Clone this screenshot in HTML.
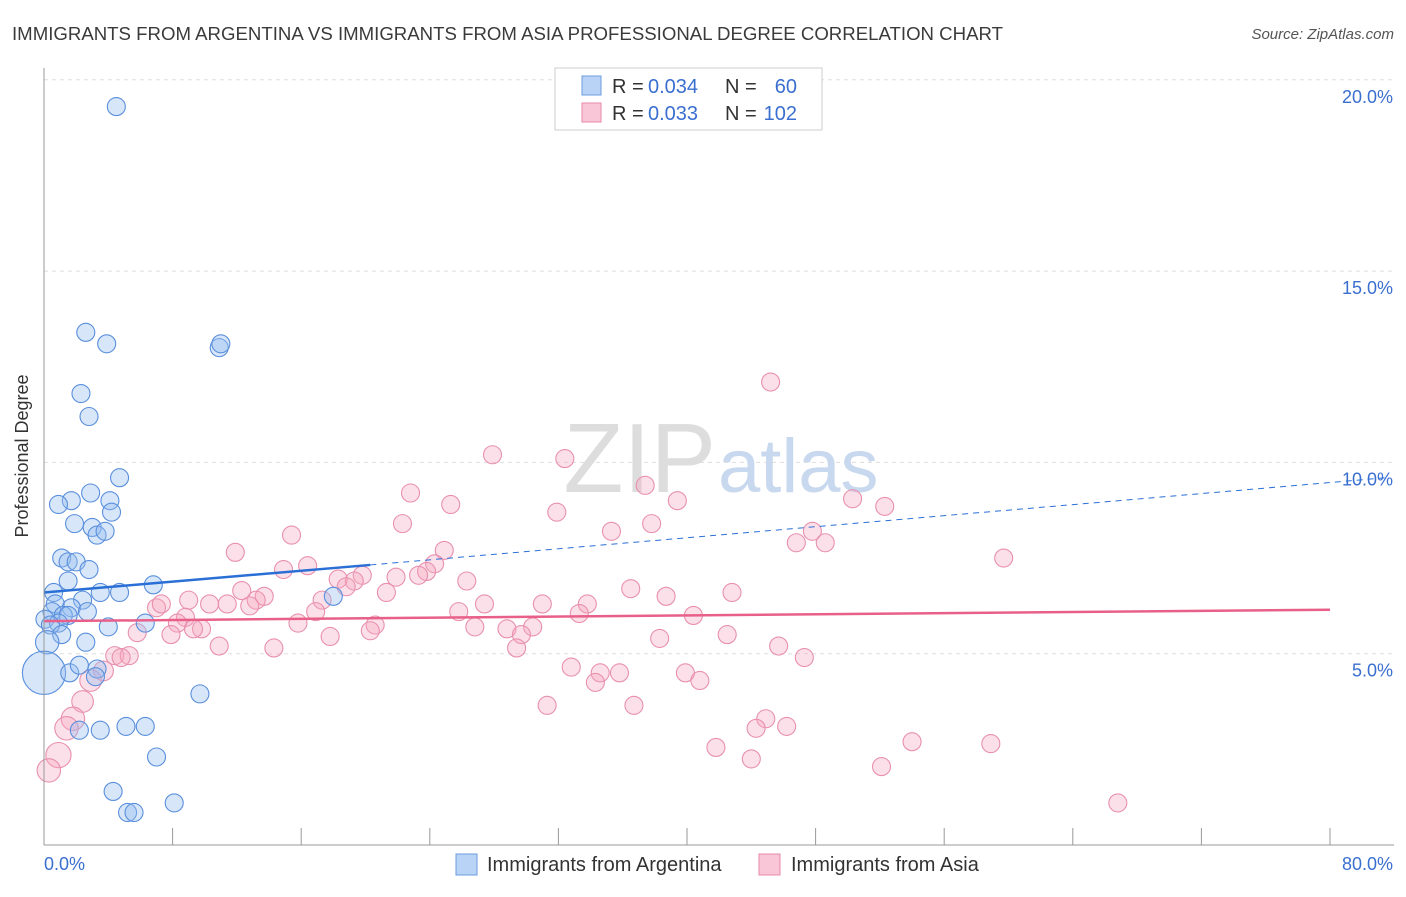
<!DOCTYPE html>
<html><head><meta charset="utf-8"><style>
body{margin:0;background:#fff;font-family:"Liberation Sans",sans-serif}
svg text{font-family:"Liberation Sans",sans-serif}
</style></head><body>
<svg width="1406" height="892" viewBox="0 0 1406 892">
<text x="12" y="40" font-size="18" fill="#3a3a3a" textLength="991" lengthAdjust="spacingAndGlyphs">IMMIGRANTS FROM ARGENTINA VS IMMIGRANTS FROM ASIA PROFESSIONAL DEGREE CORRELATION CHART</text>
<text x="1394" y="39" font-size="15" fill="#555" text-anchor="end" font-style="italic">Source: ZipAtlas.com</text>
<g id="grid"></g>
<text x="716" y="492" font-size="98" fill="#ddd" text-anchor="end" font-family="Liberation Serif">ZIP</text>
<text x="718" y="492" font-size="76" fill="#c8d8ee">atlas</text>
<g id="pts"></g>
<g id="trend"></g>
<line x1="44" y1="68" x2="44" y2="845" stroke="#999"/>
<line x1="44" y1="845" x2="1394" y2="845" stroke="#999"/>
<text x="28" y="456" font-size="18" fill="#333" text-anchor="middle" transform="rotate(-90 28 456)">Professional Degree</text>
<text x="44" y="870" font-size="18" fill="#3a6fd0">0.0%</text>
<text x="1393" y="870" font-size="18" fill="#3a6fd0" text-anchor="end">80.0%</text>
<g>
<rect x="555" y="68" width="267" height="62" fill="#fff" stroke="#ccc"/>
<rect x="582" y="76" width="19" height="19" fill="#b8d3f5" stroke="#6b9de0"/>
<rect x="582" y="103" width="19" height="19" fill="#f8c6d6" stroke="#e88aa8"/>
<text x="612" y="93" font-size="20" fill="#333">R = </text>
<text x="648" y="93" font-size="20" fill="#3a6fd0">0.034</text>
<text x="725" y="93" font-size="20" fill="#333">N = </text>
<text x="797" y="93" font-size="20" fill="#3a6fd0" text-anchor="end">60</text>
<text x="612" y="120" font-size="20" fill="#333">R = </text>
<text x="648" y="120" font-size="20" fill="#3a6fd0">0.033</text>
<text x="725" y="120" font-size="20" fill="#333">N = </text>
<text x="797" y="120" font-size="20" fill="#3a6fd0" text-anchor="end">102</text>
</g>
<g>
<rect x="456" y="854" width="21" height="21" fill="#b8d3f5" stroke="#6b9de0"/>
<text x="487" y="871" font-size="20" fill="#333">Immigrants from Argentina</text>
<rect x="759" y="854" width="21" height="21" fill="#f8c6d6" stroke="#e88aa8"/>
<text x="791" y="871" font-size="20" fill="#333">Immigrants from Asia</text>
</g>
</svg>
<script>
const yTicks=[5,10,15,20];
const xTicks=[0,8,16,24,32,40,48,56,64,72,80];
const blueX=[4.5,2.6,3.9,10.9,11.0,2.3,2.8,4.7,1.7,0.9,2.9,4.1,4.2,1.9,3.0,3.3,3.8,1.1,1.5,2.0,2.8,1.5,0.6,6.8,4.7,3.5,18.0,0.7,2.4,1.7,0.5,1.2,2.7,1.5,0.06,0.9,6.3,0.4,1.1,4.0,2.6,0.2,0,1.6,2.2,3.3,3.2,9.7,2.2,3.5,5.1,6.3,7.0,4.3,8.1,5.2,5.6];
const blueY=[19.3,13.4,13.1,13.0,13.1,11.8,11.2,9.6,9.0,8.9,9.2,9.0,8.7,8.4,8.3,8.1,8.2,7.5,7.4,7.4,7.2,6.9,6.6,6.8,6.6,6.6,6.5,6.3,6.4,6.2,6.1,6.0,6.1,6.0,5.9,5.8,5.8,5.75,5.5,5.7,5.3,5.3,4.5,4.5,4.7,4.6,4.4,3.95,3.0,3.0,3.1,3.1,2.3,1.4,1.1,0.85,0.85];
const blueW=[1,1,1,1,1,1,1,1,1,1,1,1,1,1,1,1,1,1,1,1,1,1,1,1,1,1,1,1,1,1,1,1,1,1,1,1,1,1,1,1,1,1.3,2.4,1,1,1,1,1,1,1,1,1,1,1,1,1,1];
const pinkX=[45.2,27.9,32.4,37.4,22.8,39.4,25.3,50.3,52.3,31.9,37.8,22.3,15.4,35.3,47.8,46.8,48.6,59.7,11.9,24.9,24.3,16.4,14.9,23.8,23.3,19.8,21.9,19.3,18.3,18.8,26.3,36.5,42.8,12.3,13.7,17.3,13.2,21.3,38.7,7.0,10.3,11.4,12.8,9.0,7.3,27.4,31.0,33.8,25.8,33.3,16.9,8.8,40.4,15.8,8.3,20.6,30.4,28.8,26.8,20.3,9.8,9.3,5.8,7.9,17.8,29.7,42.5,38.3,10.9,14.3,29.4,45.7,47.3,4.4,5.3,4.8,3.7,32.8,34.6,35.8,39.9,2.9,34.3,40.8,2.4,31.3,36.7,1.8,1.4,44.9,46.2,44.3,54.0,58.9,41.8,0.9,44.0,52.1,0.3,66.8];
const pinkY=[12.1,10.2,10.1,9.4,9.2,9.0,8.9,9.05,8.85,8.7,8.4,8.4,8.1,8.2,8.2,7.9,7.9,7.5,7.65,7.7,7.35,7.3,7.2,7.15,7.05,7.05,7.0,6.9,6.95,6.75,6.9,6.7,6.6,6.65,6.5,6.4,6.4,6.6,6.5,6.2,6.3,6.3,6.25,6.4,6.3,6.3,6.3,6.3,6.1,6.05,6.1,5.95,6.0,5.8,5.8,5.75,5.7,5.65,5.7,5.6,5.65,5.65,5.55,5.5,5.45,5.5,5.5,5.4,5.2,5.15,5.15,5.2,4.9,4.95,4.95,4.9,4.55,4.65,4.5,4.5,4.5,4.3,4.25,4.3,3.75,3.65,3.65,3.3,3.05,3.3,3.1,3.05,2.7,2.65,2.55,2.35,2.25,2.05,1.95,1.1];
const pinkW=[1,1,1,1,1,1,1,1,1,1,1,1,1,1,1,1,1,1,1,1,1,1,1,1,1,1,1,1,1,1,1,1,1,1,1,1,1,1,1,1,1,1,1,1,1,1,1,1,1,1,1,1,1,1,1,1,1,1,1,1,1,1,1,1,1,1,1,1,1,1,1,1,1,1,1,1,1.1,1,1,1,1,1.2,1,1,1.2,1,1,1.3,1.3,1,1,1,1,1,1,1.4,1,1,1.3,1];
const blueTrend=[[0,6.6],[20.3,7.32]];const blueDash=[[20.3,7.32],[83.5,9.6]];
const pinkTrend=[[0,5.85],[80,6.15]];
const sx=v=>44+v*16.075, sy=v=>845-v*38.26;
const NS='http://www.w3.org/2000/svg';
function mk(t,a,p){const e=document.createElementNS(NS,t);for(const k in a)e.setAttribute(k,a[k]);p.appendChild(e);return e;}
const g=document.getElementById('grid');
yTicks.forEach(t=>{const l=mk('line',{x1:44,x2:1394,y1:sy(t),y2:sy(t),stroke:'#ddd','stroke-dasharray':'4,4'},g);


const tx=mk('text',{x:1393,y:sy(t)+23,'font-size':18,fill:'#3a6fd0','text-anchor':'end'},g);tx.textContent=t.toFixed(1)+'%';

});
xTicks.forEach(t=>{const l=mk('line',{x1:sx(t),x2:sx(t),y1:828,y2:845,stroke:'#999'},g);

});
const p=document.getElementById('pts');
pinkX.forEach((x,i)=>{const c=mk('circle',{cx:sx(x),cy:sy(pinkY[i]),r:9*pinkW[i],fill:'rgba(245,165,192,0.35)',stroke:'#e890ae','stroke-width':1.1},p);

});
blueX.forEach((x,i)=>{const c=mk('circle',{cx:sx(x),cy:sy(blueY[i]),r:9*blueW[i],fill:'rgba(150,190,240,0.38)',stroke:'#5a8fdc','stroke-width':1.1},p);

});
const tr=document.getElementById('trend');
function ln(d,col,w,dash,name){const l=mk('line',{x1:sx(d[0][0]),y1:sy(d[0][1]),x2:sx(d[1][0]),y2:sy(d[1][1]),stroke:col,'stroke-width':w},tr);if(dash)l.setAttribute('stroke-dasharray',dash);

}
ln(blueTrend,'#2a6fd6',2.5,null,'argentina-trend');
ln(blueDash,'#2a6fd6',1,'6,5','argentina-trend-extension');
ln(pinkTrend,'#e8608a',2.5,null,'asia-trend');
</script>
</body></html>
